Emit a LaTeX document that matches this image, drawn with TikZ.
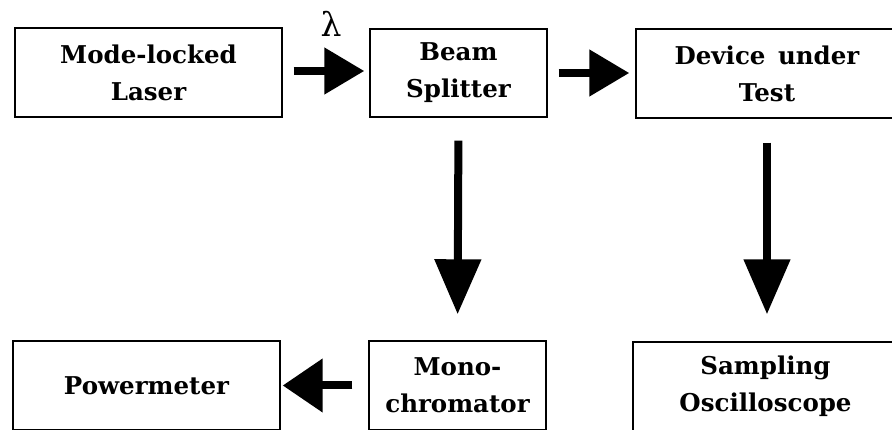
\documentclass[tikz,border=0pt]{standalone}
\usepackage{fontspec}
\setmainfont{DejaVu Serif}
\usetikzlibrary{arrows.meta}
\begin{document}
\begin{tikzpicture}[x=1pt,y=-1pt,
  box/.style={draw=black, line width=1.4pt, rectangle, inner sep=0pt, align=center,
    font=\fontsize{24.5}{37}\selectfont\bfseries},
  harrow/.style={line width=8pt, -{Triangle[length=40pt,width=45pt]}},
  varrow/.style={line width=8pt, -{Triangle[length=55pt,width=45pt]}}]
\useasboundingbox (0,0) rectangle (892,430);
\clip (0,0) rectangle (892,430);
\node[box, minimum width=267pt, minimum height=89pt] (laser) at (148.5,72.5) {Mode-locked\\Laser};
\node[box, minimum width=177pt, minimum height=88pt] (split) at (458.5,73) {Beam\\Splitter};
\node[box, minimum width=262pt, minimum height=89pt] (dut) at (767,73.5) {Device\, under\\Test};
\node[box, minimum width=267pt, minimum height=89pt] (power) at (146.5,385.5) {Powermeter};
\node[box, minimum width=177pt, minimum height=89pt] (mono) at (457.5,385.5) {Mono-\\chromator};
\node[box, minimum width=265pt, minimum height=89pt] (osc) at (765.5,386.5) {Sampling\\Oscilloscope};
\node[font=\fontsize{33}{33}\selectfont, inner sep=0pt] (lam) at (331,24) {λ};
\draw[harrow, shorten <=11pt, shorten >=5pt] (laser.east |- 0,71) -- (split.west |- 0,71);
\draw[harrow, shorten <=11pt, shorten >=6pt] (split.east |- 0,73) -- (dut.west |- 0,73);
\draw[varrow, shorten <=23pt, shorten >=26pt] (split.south) -- (mono.north);
\draw[varrow, shorten <=24pt, shorten >=27pt] (dut.south) -- (dut.south |- osc.north);
\draw[harrow, -{Triangle[length=40pt,width=52pt]}, shorten <=16pt, shorten >=2pt] (mono.west) -- (power.east);
\end{tikzpicture}
\end{document}
